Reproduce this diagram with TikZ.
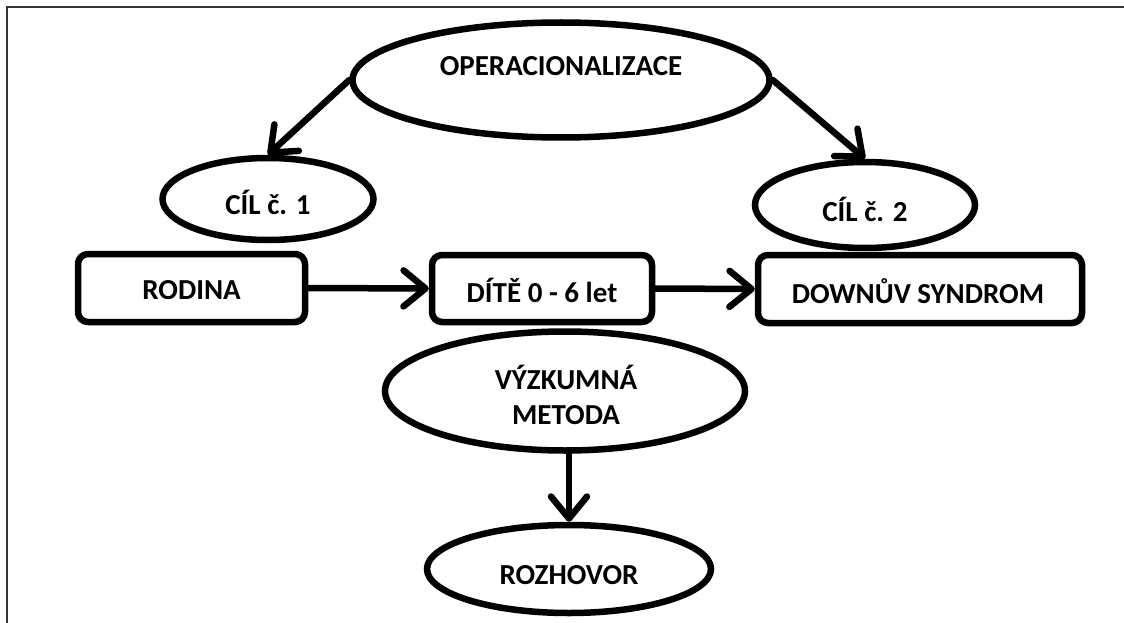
\documentclass[tikz,border=0pt]{standalone}
\usepackage{fontspec}
\setmainfont{Carlito}
\usetikzlibrary{shapes.geometric,arrows.meta}
\tikzset{
  oval/.style={ellipse, draw, line width=6.5pt, inner sep=0pt},
  card/.style={rectangle, draw, line width=6.5pt, rounded corners=10pt, inner sep=0pt},
  caption/.style={font=\fontsize{29}{35}\selectfont\bfseries, align=center, inner sep=0pt},
  link/.style={line width=6.5pt, line cap=round,
    -{Straight Barb[length=22pt, width=36pt, round]}},
  frame/.style={line width=1.6pt, draw=black!80}
}
\begin{document}
\begin{tikzpicture}[x=1pt, y=-1pt]
  \useasboundingbox (0,0) rectangle (1124,623);
  % page frame (only top and left edges are inside the page)
  \draw[frame] (7,623) -- (7,7) -- (1124,7);

  % ovals
  \node[oval, minimum width=417pt, minimum height=115pt] (op) at (561,80) {};
  \node[caption] (opt) at (561,66) {OPERACIONALIZACE};

  \node[oval, minimum width=211pt, minimum height=82pt] (c1) at (268,199) {};
  \node[caption] (c1t) at (268,202) {CÍL č. 1};

  \node[oval, minimum width=220pt, minimum height=86pt] (c2) at (865,205) {};
  \node[caption] (c2t) at (865,209) {CÍL č. 2};

  % boxes
  \node[card, minimum width=227pt, minimum height=68pt] (rod) at (191.5,288) {};
  \node[caption] (rodt) at (191.5,290) {RODINA};

  \node[card, minimum width=220pt, minimum height=67pt] (dite) at (542,288.5) {};
  \node[caption] (ditet) at (542,290) {DÍTĚ 0 - 6 let};

  \node[card, minimum width=324pt, minimum height=68pt] (down) at (920,289) {};
  \node[caption] (downt) at (918,291) {DOWNŮV SYNDROM};

  \node[oval, minimum width=360pt, minimum height=119pt] (vm) at (565,391) {};
  \node[caption] (vmt) at (566,395) {VÝZKUMNÁ\\METODA};

  \node[oval, minimum width=284pt, minimum height=88pt] (roz) at (569,569) {};
  \node[caption] (rozt) at (569,575) {ROZHOVOR};

  % connectors
  \draw[link] (op.west) -- (c1.north);
  \draw[link] (op.east) -- (c2.north);
  \draw[link] (rod.east) -- (dite.west);
  \draw[link] (dite.east) -- (down.west);
  \draw[link] (roz.north |- vm.south) -- (roz.north);
\end{tikzpicture}
\end{document}
